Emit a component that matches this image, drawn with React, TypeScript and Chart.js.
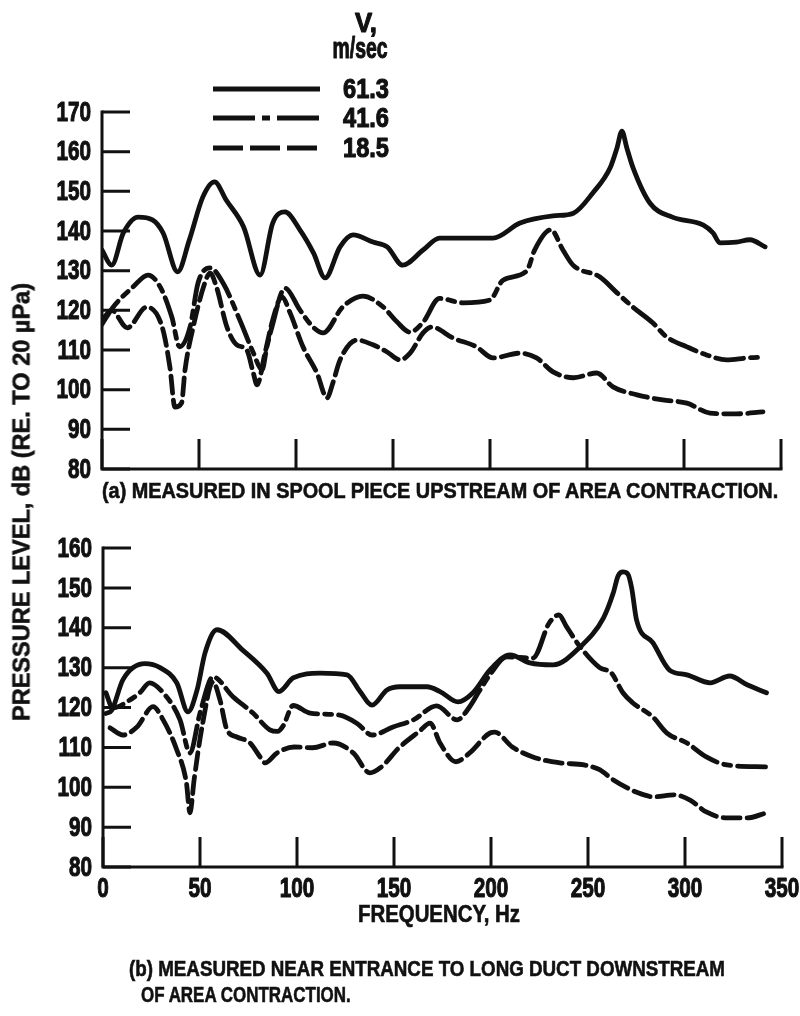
import React, { useEffect, useRef } from 'react';
import { Chart, registerables } from 'chart.js';

Chart.register(...registerables);

const FONT = '"Liberation Sans", Arial, sans-serif';

// ---------- data ----------
const speedLabels = ['61.3', '41.6', '18.5'];
const xTickValues = [0, 50, 100, 150, 200, 250, 300, 350];
const topYTickValues = [80, 90, 100, 110, 120, 130, 140, 150, 160, 170];
const botYTickValues = [80, 90, 100, 110, 120, 130, 140, 150, 160];

// (a) spool piece upstream
const topFreq61 = [0, 5, 11, 18.6, 26, 31.5, 39, 45, 52, 58, 64, 73, 81.5, 88, 94.3, 102, 109, 115, 122.7, 129.4, 139.7, 147, 155, 165.5, 174, 201.5, 215.5, 232.5, 243, 253, 262, 265.5, 268, 270.5, 273.7, 282.5, 294, 310, 315, 318.5, 327, 334, 341.8];
const topLevel61 = [135.2, 131.4, 139.5, 143.5, 142.8, 139.5, 129.7, 137.7, 148.6, 152.4, 147.8, 141, 128.9, 142, 144.8, 140.3, 134.5, 128.2, 136, 139, 137.2, 136, 131.4, 135.2, 138.2, 138.2, 142, 143.8, 144.5, 149.6, 156, 161, 165.2, 161, 156, 147, 143.5, 141.5, 139.5, 137, 137.2, 137.8, 136];

const topFreq41 = [0, 5.7, 16, 23.7, 30, 36, 40, 45.4, 49.5, 55.7, 62.4, 71, 78, 82.5, 85, 87.6, 94.3, 102, 108.8, 114, 124, 134.5, 145, 152, 158.8, 165.5, 174, 186, 200, 206.7, 219, 223, 231.4, 237.6, 242.8, 256.7, 265.5, 273.7, 284, 291, 301.5, 311.9, 322, 332.5, 340.7];
const topLevel41 = [116.5, 120.8, 125.9, 128.9, 125.9, 118.3, 110.8, 115.8, 126.9, 130.7, 126.9, 117.6, 109.3, 105, 110.8, 115.8, 125.6, 120.1, 115.8, 114.3, 120.8, 123.6, 120.8, 117.1, 114.5, 117, 123, 121.9, 122.6, 127.6, 130, 135.2, 140.3, 135.2, 131.4, 128.4, 124.4, 120.8, 116.8, 113.3, 110.8, 108.7, 107.5, 108, 108.2];

const topFreq18 = [0, 5, 13, 23, 31, 35, 37.6, 41, 42.8, 47, 53, 55.7, 59, 64.4, 69.5, 74.6, 78, 79.9, 84, 88, 92.7, 97, 103.6, 110.8, 116, 119, 122.7, 131.4, 139.7, 147, 153.6, 158.8, 165.5, 170, 181, 193, 201.5, 215.5, 224, 232.5, 243, 255, 263.4, 275.8, 289, 301.5, 313.4, 327, 340.7];
const topLevel18 = [117.5, 120, 115.6, 120.8, 115.8, 105.7, 95.6, 96.6, 105, 115.8, 126.9, 129.4, 125.9, 115.8, 111.3, 110, 104.2, 101.2, 109.2, 117.6, 123.4, 119.3, 110.8, 104.2, 97.9, 101.7, 107.5, 112.5, 111.3, 109.5, 107.5, 109.2, 114.3, 115.8, 113, 110.8, 108, 109.2, 108, 104.5, 103, 104.2, 100.7, 98.7, 97.4, 96.6, 94.1, 93.9, 94.4];

// (b) entrance to long duct downstream
const botFreq61 = [1.5, 4.6, 10.3, 21.6, 29.4, 38, 43.8, 48.5, 52.6, 58.8, 72, 84.5, 90.7, 98, 111.9, 125.8, 132.5, 138.7, 146.4, 153, 167, 173.7, 183, 190.7, 199.5, 209.8, 220, 232, 246, 258, 263, 265.5, 268, 270.5, 272.5, 275, 283.5, 292, 301, 313, 323, 332, 342];
const botLevel61 = [118.5, 119.4, 127, 131, 130, 126.2, 118.9, 124.4, 133.7, 139.5, 134.4, 128.6, 124, 127.4, 128.6, 128.2, 124, 120.6, 124.4, 125.2, 125.2, 124, 121.4, 123.7, 129.4, 133.2, 131.2, 130.7, 135.2, 142.5, 148.7, 153, 154, 153.5, 150, 142, 136.2, 129.4, 128.2, 126.2, 127.9, 125.7, 123.7];

const botFreq41 = [1.5, 5, 13.9, 19, 24, 31, 39.7, 44.8, 50, 56.7, 67, 77.3, 86, 90, 93, 98, 106.7, 122, 131, 138.7, 149.5, 160, 172, 182.5, 189, 193.8, 200, 208, 221.6, 230, 235, 239, 246, 256, 262, 268, 273, 283.5, 290.7, 301, 311, 321.6, 342];
const botLevel41 = [123.7, 119.9, 121.9, 123.7, 126.2, 123.7, 116.9, 108.6, 118.6, 127.7, 122.7, 118.6, 114.4, 114, 115.5, 120.5, 118.6, 118.1, 116, 113.1, 115.1, 116.9, 120.4, 116.9, 120.2, 124, 128.6, 132.7, 132.4, 141.2, 143.2, 140.2, 135.2, 130, 128.7, 123.7, 121.2, 117.6, 113.6, 111.1, 107.6, 105.6, 105.1];

const botFreq18 = [3.6, 10.3, 17.5, 25.8, 31, 38, 43, 44.8, 47, 51, 56.7, 60.3, 63.9, 69, 75.8, 81, 83.5, 89.7, 98.5, 108, 118.6, 129, 137.6, 143, 153, 163, 168.6, 173.7, 181.9, 189, 199.5, 202, 211, 221.6, 235.6, 247.9, 256, 262.9, 275.8, 284, 294.3, 302.6, 311, 321.6, 332, 342];
const botLevel18 = [114.9, 113.1, 115.1, 120.2, 116.9, 109.4, 101.1, 93.6, 102, 115, 126.4, 121.9, 114.4, 112.6, 111.1, 107.6, 106.1, 108.6, 110.1, 109.9, 111.1, 108.6, 103.6, 104.9, 110.1, 114, 116.1, 111.1, 106.4, 108.6, 113.6, 113.8, 110.1, 107.6, 106.1, 105.6, 104.4, 101.9, 98.6, 97.6, 98.1, 96.8, 93.8, 92.3, 92.3, 93.6];

// ---------- styles ----------
const INK = '#111';
const DASHES: number[][] = [[], [28, 7, 7, 7], [17, 7]];
const LEGEND_DASHES: number[][] = [[], [42, 7, 8, 7], [30, 7]];
const TICK_SIZE = 28;
const TICK_SX = 0.74;

let measureCtx: CanvasRenderingContext2D | null = null;
function measure(text: string, font: string): number {
  if (!measureCtx) measureCtx = document.createElement('canvas').getContext('2d');
  measureCtx!.font = font;
  return measureCtx!.measureText(text).width;
}

function drawScaled(ctx: CanvasRenderingContext2D, text: string, x: number, y: number, align: CanvasTextAlign, sx: number) {
  ctx.save();
  ctx.translate(x, y);
  ctx.scale(sx, 1);
  ctx.textAlign = align;
  ctx.lineWidth = 1.1;
  ctx.strokeStyle = INK;
  ctx.lineJoin = 'round';
  ctx.fillText(text, 0, 0);
  ctx.strokeText(text, 0, 0);
  ctx.restore();
}

function makeDatasets(freqs: number[][], levels: number[][]) {
  return freqs.map((fs, k) => ({
    label: speedLabels[k],
    data: fs.map((f, i) => ({ x: f, y: levels[k][i] })),
    borderColor: INK,
    borderWidth: 4.8,
    borderDash: DASHES[k],
    borderCapStyle: 'round' as const,
    borderJoinStyle: 'round' as const,
    pointRadius: 0,
    fill: false,
    cubicInterpolationMode: 'monotone' as const,
  }));
}

// axis lines, inward tick marks and condensed tick labels, all placed by the chart's scales
const framePlugin = {
  id: 'frame',
  beforeDatasetsDraw(chart: any, _args: any, opts: any) {
    const { ctx, chartArea: a, scales } = chart;
    const x = scales.x;
    const y = scales.y;
    ctx.save();
    ctx.strokeStyle = INK;
    ctx.lineWidth = 3;
    ctx.lineCap = 'square';
    ctx.beginPath();
    ctx.moveTo(a.left, a.top);
    ctx.lineTo(a.left, a.bottom);
    ctx.lineTo(a.right, a.bottom);
    ctx.stroke();
    ctx.lineCap = 'butt';
    ctx.beginPath();
    for (const t of y.ticks) {
      const py = y.getPixelForValue(t.value);
      ctx.moveTo(a.left, py);
      ctx.lineTo(a.left + 28, py);
    }
    for (const t of x.ticks) {
      const px = x.getPixelForValue(t.value);
      ctx.moveTo(px, a.bottom);
      ctx.lineTo(px, a.bottom - 30);
    }
    ctx.stroke();

    ctx.fillStyle = INK;
    ctx.font = `bold ${TICK_SIZE}px ${FONT}`;
    ctx.textBaseline = 'middle';
    for (const t of y.ticks) {
      const py = y.getPixelForValue(t.value);
      drawScaled(ctx, String(t.label ?? t.value), a.left - 11, py + 1, 'right', TICK_SX);
    }
    if (opts && opts.showX) {
      for (const t of x.ticks) {
        const px = x.getPixelForValue(t.value);
        drawScaled(ctx, String(t.label ?? t.value), px, a.bottom + 22, 'center', TICK_SX);
      }
    }
    ctx.restore();
  },
};

function fitDraw(ctx: CanvasRenderingContext2D, text: string, x: number, y: number, width: number, align: CanvasTextAlign) {
  const w = ctx.measureText(text).width;
  drawScaled(ctx, text, x, y, align, width / w);
}

const legendPlugin = {
  id: 'speedLegend',
  afterDraw(chart: any) {
    const { ctx } = chart;
    ctx.save();
    ctx.fillStyle = INK;
    ctx.textBaseline = 'middle';
    ctx.font = `bold 28px ${FONT}`;
    fitDraw(ctx, 'V,', 366, 24, 22, 'center');
    ctx.font = `bold 29px ${FONT}`;
    fitDraw(ctx, 'm/sec', 360, 50, 55, 'center');
    const ys = [89, 118, 148];
    chart.data.datasets.forEach((ds: any, i: number) => {
      ctx.strokeStyle = ds.borderColor;
      ctx.lineWidth = 4.8;
      ctx.setLineDash(LEGEND_DASHES[i]);
      ctx.beginPath();
      ctx.moveTo(213, ys[i]);
      ctx.lineTo(320, ys[i]);
      ctx.stroke();
      ctx.setLineDash([]);
      ctx.font = `bold 28px ${FONT}`;
      fitDraw(ctx, ds.label, 343, ys[i] + 1, 46, 'left');
    });
    ctx.restore();
  },
};

function buildConfig(opts: {
  datasets: any[];
  yTicks: number[];
  yMax: number;
  showX: boolean;
  padding: { top: number; right: number; bottom: number; left: number };
  yWidth: number;
  xHeight: number;
  legend: boolean;
}) {
  return {
    type: 'line' as const,
    data: { datasets: opts.datasets },
    options: {
      responsive: false,
      animation: false as const,
      layout: { padding: opts.padding },
      plugins: { legend: { display: false }, tooltip: { enabled: false }, frame: { showX: opts.showX } },
      scales: {
        x: {
          type: 'linear' as const,
          min: 0,
          max: 350,
          afterBuildTicks: (s: any) => {
            s.ticks = xTickValues.map((v) => ({ value: v }));
          },
          grid: { display: false, drawTicks: false },
          border: { display: false },
          ticks: { display: false },
          afterFit: (s: any) => {
            s.height = opts.xHeight;
          },
        },
        y: {
          type: 'linear' as const,
          min: 80,
          max: opts.yMax,
          afterBuildTicks: (s: any) => {
            s.ticks = opts.yTicks.map((v) => ({ value: v }));
          },
          grid: { display: false, drawTicks: false },
          border: { display: false },
          ticks: { display: false },
          afterFit: (s: any) => {
            s.width = opts.yWidth;
          },
        },
      },
    },
    plugins: opts.legend ? [framePlugin, legendPlugin] : [framePlugin],
  };
}

function FitText(props: { text: string; left: number; cy: number; width: number; size: number; rotate?: boolean }) {
  const font = `bold ${props.size}px ${FONT}`;
  const sx = props.width / measure(props.text, font);
  const lh = Math.round(props.size * 1.3);
  const base: React.CSSProperties = {
    position: 'absolute',
    fontFamily: FONT,
    fontWeight: 'bold',
    fontSize: props.size,
    lineHeight: `${lh}px`,
    color: INK,
    whiteSpace: 'nowrap',
    margin: 0,
    WebkitTextStroke: `0.6px ${INK}`,
  };
  if (props.rotate) {
    return (
      <div style={{ ...base, left: props.left, top: props.cy, transform: `translate(-50%, -50%) rotate(-90deg) scaleX(${sx})` }}>
        {props.text}
      </div>
    );
  }
  return (
    <div style={{ ...base, left: props.left, top: props.cy - lh / 2, transform: `scaleX(${sx})`, transformOrigin: 'left center' }}>
      {props.text}
    </div>
  );
}

export default function App() {
  const topRef = useRef<HTMLCanvasElement>(null);
  const botRef = useRef<HTMLCanvasElement>(null);

  useEffect(() => {
    const top = new Chart(
      topRef.current as HTMLCanvasElement,
      buildConfig({
        datasets: makeDatasets([topFreq61, topFreq41, topFreq18], [topLevel61, topLevel41, topLevel18]),
        yTicks: topYTickValues,
        yMax: 170,
        showX: false,
        padding: { top: 112, right: 19, bottom: 31, left: 0 },
        yWidth: 102,
        xHeight: 0,
        legend: true,
      }) as any
    );
    const bot = new Chart(
      botRef.current as HTMLCanvasElement,
      buildConfig({
        datasets: makeDatasets([botFreq61, botFreq41, botFreq18], [botLevel61, botLevel41, botLevel18]),
        yTicks: botYTickValues,
        yMax: 160,
        showX: true,
        padding: { top: 48, right: 18, bottom: 109, left: 0 },
        yWidth: 103,
        xHeight: 40,
        legend: false,
      }) as any
    );
    return () => {
      top.destroy();
      bot.destroy();
    };
  }, []);

  return (
    <div style={{ position: 'absolute', left: 0, top: 0, width: 800, height: 1016, background: '#fff', overflow: 'hidden' }}>
      <canvas ref={topRef} width={800} height={500} style={{ position: 'absolute', left: 0, top: 0, width: 800, height: 500 }} />
      <canvas ref={botRef} width={800} height={516} style={{ position: 'absolute', left: 0, top: 500, width: 800, height: 516 }} />
      <FitText text="PRESSURE LEVEL, dB (RE. TO 20 µPa)" left={21} cy={502} width={438} size={24} rotate />
      <FitText text="(a) MEASURED IN SPOOL PIECE UPSTREAM OF AREA CONTRACTION." left={102} cy={490} width={678} size={22} />
      <FitText text="FREQUENCY, Hz" left={358} cy={914} width={162} size={23} />
      <FitText text="(b) MEASURED NEAR ENTRANCE TO LONG DUCT DOWNSTREAM" left={129} cy={968} width={596} size={22} />
      <FitText text="OF AREA CONTRACTION." left={141} cy={994} width={211} size={22} />
    </div>
  );
}
